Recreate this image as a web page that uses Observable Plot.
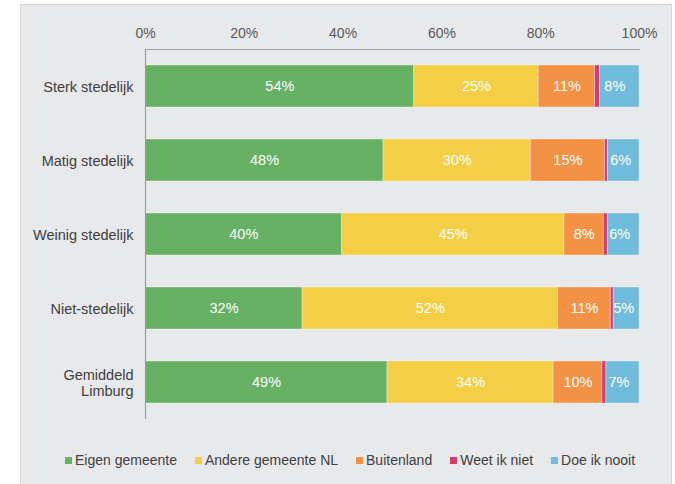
<!DOCTYPE html>
<html>
<head>
<meta charset="utf-8">
<script src="https://cdn.jsdelivr.net/npm/d3@7"></script>
<script src="https://cdn.jsdelivr.net/npm/@observablehq/plot@0.6"></script>
<style>
  body { margin: 0; background: #fff; font-family: "Liberation Sans", Arial, sans-serif; }
  #panel { position: absolute; left: 20px; top: 4px; width: 650px; height: 490px; background: #e8e9eb; border: 1px solid #d6d6d6; }
  #legend { position: absolute; left: 0; top: 447px; width: 650px; display: flex; justify-content: center; padding-left: 8px; box-sizing: border-box;
            font-size: 14px; color: #404040; line-height: 16px; }
  .item { display: flex; align-items: center; margin: 0 9px; }
  .sw { width: 7px; height: 7px; margin-right: 3px; }
</style>
</head>
<body>
<div id="panel"><div id="chart"></div><div id="legend"></div></div>
<script>
const categories = ["Sterk stedelijk", "Matig stedelijk", "Weinig stedelijk", "Niet-stedelijk", "Gemiddeld\nLimburg"];
const seriesNames = ["Eigen gemeente", "Andere gemeente NL", "Buitenland", "Weet ik niet", "Doe ik nooit"];
const seriesColors = ["#66b164", "#f4cf45", "#f39244", "#d93a6b", "#70bcdc"];
const eigenGemeente   = [54.4, 48.2, 39.8, 31.8, 49.0];
const andereGemeente  = [25.2, 29.8, 45.0, 51.7, 33.6];
const buitenland      = [11.4, 15.0,  8.0, 10.7,  9.9];
const weetIkNiet      = [ 1.0,  0.6,  0.8,  0.6,  0.8];
const doeIkNooit      = [ 8.0,  6.4,  6.4,  5.2,  6.7];
const xTicks = [0, 20, 40, 60, 80, 100];

const seriesValues = [eigenGemeente, andereGemeente, buitenland, weetIkNiet, doeIkNooit];
const data = [];
categories.forEach((c, i) => {
  seriesNames.forEach((s, j) => {
    data.push({category: c, series: s, value: seriesValues[j][i]});
  });
});

const chart = Plot.plot({
  width: 650,
  height: 430,
  marginLeft: 124,
  marginRight: 32,
  marginTop: 44,
  marginBottom: 16,
  style: {fontFamily: "Liberation Sans, Arial, sans-serif", fontSize: "14px", background: "transparent"},
  x: {domain: [0, 100], ticks: xTicks, axis: null, label: null},
  y: {domain: categories, paddingInner: 0.43, paddingOuter: 0.215, axis: null, label: null},
  color: {domain: seriesNames, range: seriesColors},
  marks: [
    Plot.axisX({anchor: "top", ticks: xTicks, tickSize: 0, tickPadding: 12, tickFormat: d => d + "%", fill: "#595959", fontSize: 14, label: null}),
    Plot.axisY({anchor: "left", tickSize: 0, tickPadding: 12, fill: "#404040", fontSize: 14.5, lineHeight: 1.1, label: null}),
    Plot.barX(data, Plot.stackX({x: "value", y: "category", fill: "series", order: seriesNames, stroke: "#ffffff", strokeOpacity: 0.35, strokeWidth: 1})),
    Plot.text(data, Plot.stackX({filter: d => d.value >= 2, x: "value", y: "category", z: "series", order: seriesNames,
      text: d => Math.round(d.value) + "%", fill: "#ffffff", fontSize: 14.5})),
    Plot.ruleX([0], {stroke: "#9e9e9e", strokeWidth: 1.2}),
    Plot.frame({anchor: "top", stroke: "#9e9e9e", strokeWidth: 1.2})
  ]
});

document.getElementById("chart").appendChild(chart);

const legend = document.getElementById("legend");
seriesNames.forEach((s, i) => {
  const item = document.createElement("div");
  item.className = "item";
  const sw = document.createElement("span");
  sw.className = "sw";
  sw.style.background = seriesColors[i];
  const t = document.createElement("span");
  t.textContent = s;
  item.appendChild(sw);
  item.appendChild(t);
  legend.appendChild(item);
});
</script>
</body>
</html>
